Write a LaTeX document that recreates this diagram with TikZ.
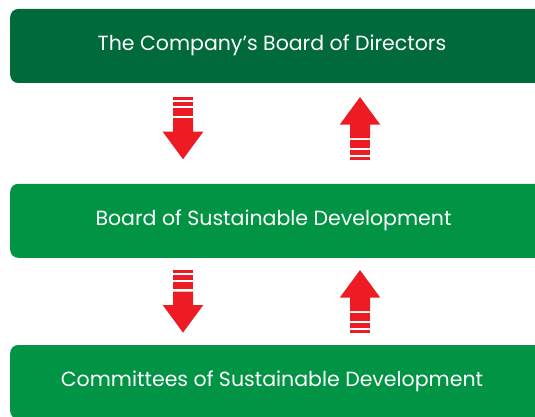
\documentclass[tikz,border=0pt]{standalone}
\usepackage{fontspec}
\setmainfont{Poppins}
\definecolor{darkgreen}{HTML}{006A3A}
\definecolor{midgreen}{HTML}{009444}
\definecolor{arrowred}{HTML}{ED1C24}
\tikzset{
  x=1pt, y=1pt,
  box/.style={fill=#1, rounded corners=8pt, minimum width=560pt, minimum height=74pt, inner sep=0pt, anchor=west},
  boxtext/.style={text=white, font=\fontsize{20.5}{22}\selectfont, inner sep=0pt},
  pics/blockarrow/.style={code={
    \fill[arrowred] (-10,0) rectangle (10,-3);
    \fill[arrowred] (-10,-5) rectangle (10,-9.7);
    \fill[arrowred] (-10,-11.7) rectangle (10,-19.3);
    \fill[arrowred] (-10,-21.5) -- (10,-21.5) -- (10,-35) -- (20.3,-35) -- (0,-62.6) -- (-20.3,-35) -- (-10,-35) -- cycle;
  }}
}
\begin{document}
\begin{tikzpicture}
\useasboundingbox (0,0) rectangle (535,-417);
\begin{scope}
\clip (0,0) rectangle (535,-417);
\node[box=darkgreen] (topbox) at (10,-46) {};
\node[box=midgreen] (midbox) at (10,-220.8) {};
\node[box=midgreen] (botbox) at (10,-382) {};
\node[boxtext] (toptext) at (272,-45) {The Company’s Board of Directors};
\node[boxtext] (midtext) at (273.5,-220) {Board of Sustainable Development};
\node[boxtext] (bottext) at (272,-381) {Committees of Sustainable Development};
\pic at (183,-96.7) {blockarrow};
\pic[rotate=180] at (360,-159.7) {blockarrow};
\pic at (183,-270) {blockarrow};
\pic[rotate=180] at (360,-332.7) {blockarrow};
\end{scope}
\end{tikzpicture}
\end{document}
